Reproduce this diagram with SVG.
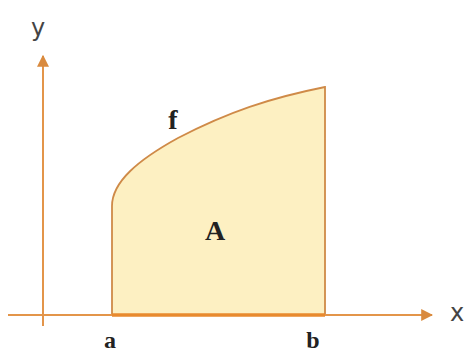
<svg xmlns="http://www.w3.org/2000/svg" width="472" height="352" viewBox="0 0 472 352">
<defs>
<marker id="arr" viewBox="0 0 10 10" refX="9" refY="5" markerWidth="12" markerHeight="12" markerUnits="userSpaceOnUse" orient="auto">
<path d="M0,0 L10,5 L0,10 Z" fill="#d98a3e"/>
</marker>
<style>
.axis{stroke:#e3954a;stroke-width:2;fill:none}
.lbl{font-family:"Liberation Serif",serif;font-weight:bold;fill:#222}
.ax{font-family:"DejaVu Sans",sans-serif;fill:#444;font-size:24px}
</style>
</defs>
<rect width="472" height="352" fill="#fff"/>
<g id="area">
<path d="M112,315 L112,206 C112,182 138,160 178,138 C228,112 270,98 325,87 L325,315 Z" fill="#fdf0c2" stroke="#cf8a48" stroke-width="1.8"/>
</g>
<g id="connectors">
<line class="axis" x1="43" y1="326" x2="43" y2="56" marker-end="url(#arr)"/>
<line class="axis" x1="8" y1="315" x2="432" y2="315" marker-end="url(#arr)"/>
<line x1="112" y1="315" x2="325" y2="315" stroke="#e88a2e" stroke-width="3.5"/>
</g>
<g id="labels">
<text class="ax" x="38" y="36" text-anchor="middle">y</text>
<text class="ax" x="457" y="321" text-anchor="middle">x</text>
<text class="lbl" x="110" y="348" font-size="24" text-anchor="middle">a</text>
<text class="lbl" x="313" y="348" font-size="24" text-anchor="middle">b</text>
<text class="lbl" x="173" y="129" font-size="28" text-anchor="middle">f</text>
<text class="lbl" x="215" y="240" font-size="28" text-anchor="middle">A</text>
</g>
</svg>
